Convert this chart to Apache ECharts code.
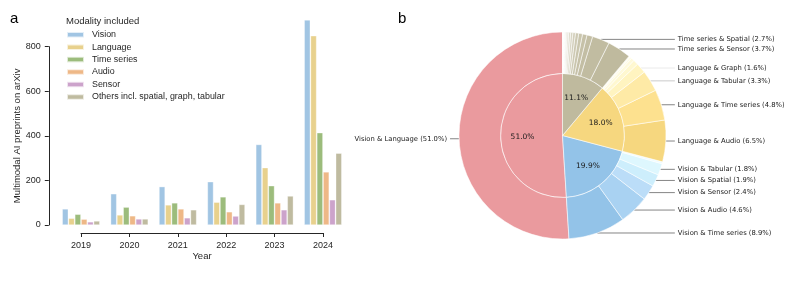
<!DOCTYPE html>
<html><head><meta charset="utf-8">
<script src="https://cdn.jsdelivr.net/npm/echarts@6/dist/echarts.min.js"></script>
<style>html,body{margin:0;padding:0;background:#fff}#c{width:793px;height:282px}</style>
</head><body><div id="c"></div>
<script>
// ---- Panel a data ----
const years = ['2019','2020','2021','2022','2023','2024'];
const yearTicks = [2019, 2024];
const modalities = ['Vision','Language','Time series','Audio','Sensor','Others incl. spatial, graph, tabular'];
const vision     = [72, 140, 172, 194, 361, 920];
const language   = [30, 45, 90, 102, 257, 849];
const timeSeries = [48, 80, 99, 126, 176, 414];
const audio      = [26, 41, 72, 59, 99, 238];
const sensor     = [14, 27, 32, 40, 68, 113];
const others     = [18, 27, 68, 92, 130, 322];
const yTicks = [0, 800, 200];

// ---- Panel b data ----
const innerNames  = ['Vision & Language','Vision','Language','Others'];
const innerValues = [51.0, 19.9, 18.0, 11.1];
const outerNames = ['Vision & Language',
  'Vision & Time series','Vision & Audio','Vision & Sensor','Vision & Spatial','Vision & Tabular','',
  'Language & Audio','Language & Time series','Language & Tabular','Language & Graph','','','','',
  'Time series & Sensor','Time series & Spatial','','','','','','','','','','','','','',''];
const outerValues = [51.0,
  8.9, 4.6, 2.4, 1.9, 1.8, 0.3,
  6.5, 4.8, 3.3, 1.6, 0.8, 0.5, 0.3, 0.2,
  3.7, 2.7, 0.9, 0.7, 0.6, 0.5, 0.4, 0.35, 0.3, 0.25, 0.2, 0.15, 0.12, 0.1, 0.08, 0.05];

// ---- styles ----
const barColors = ['#a1c5e3','#e8d18d','#9cbc7c','#eeb887','#cca3cb','#bfbba0'];
const innerColors = ['#ea9a9e','#93c3e8','#f6d77f','#bfba9e'];
const outerColors = ['#ea9a9e',
  '#93c3e8','#a9d2f2','#bbddf8','#cdeefc','#def7fe','#eefbff',
  '#f6d77f','#fde18f','#feeaa6','#fff4c0','#fff8d0','#fffadc','#fffce6','#fffdf0',
  '#bfba9e','#c1bca1','#c3bea4','#c6c1a8','#c9c5ad','#cdc9b3','#d2ceba','#d7d4c2','#dcd9ca','#e2e0d3','#e8e6dc','#edece4','#f2f1eb','#f6f5f0','#f9f9f5','#fcfcfa'];
const lineColorFor = {'Language & Tabular':'#bdbdbd','Language & Graph':'#e6e6e6'};

const seriesValues = [vision, language, timeSeries, audio, sensor, others];
const txt = '#262626';
const sans = 'Liberation Sans, Arial, sans-serif';
const dv = 'DejaVu Sans, sans-serif';

const chart = echarts.init(document.getElementById('c'), null, {renderer:'canvas'});

const barSeries = modalities.map((m, i) => ({
  name: m, type: 'bar', xAxisIndex: 0, yAxisIndex: 0,
  data: seriesValues[i], barWidth: 6, barGap: '5%', clip: false,
  itemStyle: {color: barColors[i], borderColor: 'rgba(255,255,255,0.7)', borderWidth: 0.5},
  emphasis: {disabled: true}
}));

const center = [562.5, 135.5];

const option = {
  animation: false,
  title: [
    {text: 'a', left: 10, top: 11, padding: 0, textStyle: {fontFamily: sans, fontSize: 15, fontWeight: 'normal', color: '#000'}},
    {text: 'b', left: 398, top: 11, padding: 0, textStyle: {fontFamily: sans, fontSize: 15, fontWeight: 'normal', color: '#000'}},
    {text: 'Modality included', left: 66, top: 16.5, padding: 0, textStyle: {fontFamily: sans, fontSize: 9.5, fontWeight: 'normal', color: txt}}
  ],
  legend: {
    orient: 'vertical', left: 66, top: 28.7, padding: 0, itemGap: 0.45,
    icon: 'rect', itemWidth: 17, itemHeight: 5.5,
    data: modalities,
    textStyle: {fontFamily: sans, fontSize: 8.9, color: txt, lineHeight: 12, padding: [0,0,0,3]},
    selectedMode: false
  },
  grid: [
    {left: 56.8, right: 445.8, top: 46.7, bottom: 57},
    {left: 81, width: 242, top: 232, height: 1}
  ],
  xAxis: [
    {type: 'category', gridIndex: 0, data: years, show: false},
    {type: 'value', gridIndex: 1, min: yearTicks[0], max: yearTicks[1], interval: 1,
     name: 'Year', nameLocation: 'middle', nameGap: 18,
     nameTextStyle: {fontFamily: sans, fontSize: 9.5, color: txt},
     axisLine: {show: true, lineStyle: {color: txt, width: 1}},
     axisTick: {show: true, length: 4, lineStyle: {color: txt}},
     axisLabel: {fontFamily: sans, fontSize: 9, color: txt, margin: 8, formatter: v => String(v)},
     splitLine: {show: false}}
  ],
  yAxis: [
    {type: 'value', gridIndex: 0, min: yTicks[0], max: yTicks[1], interval: yTicks[2], offset: 8,
     name: 'Multimodal AI preprints on arXiv', nameLocation: 'middle', nameGap: 24,
     nameTextStyle: {fontFamily: sans, fontSize: 9.5, color: txt},
     axisLine: {show: true, lineStyle: {color: txt, width: 1}},
     axisTick: {show: true, length: 4, lineStyle: {color: txt}},
     axisLabel: {fontFamily: sans, fontSize: 9, color: txt, margin: 8},
     splitLine: {show: false}},
    {type: 'value', gridIndex: 1, show: false}
  ],
  series: [
    ...barSeries,
    {
      type: 'pie', name: 'inner', center: center, radius: [0, 62],
      clockwise: false, startAngle: 90, silent: true,
      label: {show: false}, labelLine: {show: false},
      itemStyle: {borderColor: 'rgba(255,255,255,0.9)', borderWidth: 0.6},
      data: innerNames.map((n, i) => ({name: n, value: innerValues[i], itemStyle: {color: innerColors[i]}}))
    },
    {
      type: 'pie', name: 'outer', center: center, radius: [62, 103.5],
      clockwise: false, startAngle: 90, silent: true,
      avoidLabelOverlap: true,
      label: {show: true, fontFamily: dv, fontSize: 6.8, color: '#1a1a1a',
              alignTo: 'labelLine', distanceToLabelLine: 3, overflow: 'none', width: 200,
              formatter: p => p.name + ' (' + p.value.toFixed(1) + '%)'},
      labelLine: {show: true, length: 0, length2: 9, lineStyle: {color: '#666', width: 0.8}},
      itemStyle: {borderColor: 'rgba(255,255,255,0.9)', borderWidth: 0.6},
      data: outerNames.map((n, i) => ({
        name: n, value: outerValues[i],
        itemStyle: {color: outerColors[i]},
        label: {show: n !== ''},
        labelLine: {show: n !== '', lineStyle: {color: lineColorFor[n] || '#666'}}
      }))
    },
    {
      type: 'pie', name: 'innerLabels', center: center, radius: [12, 62],
      clockwise: false, startAngle: 90, silent: true, z: 5,
      itemStyle: {color: 'rgba(0,0,0,0)'},
      label: {show: true, position: 'inside', fontFamily: dv, fontSize: 7.5, color: '#1a1a1a',
              formatter: p => p.value.toFixed(1) + '%'},
      labelLine: {show: false},
      data: innerNames.map((n, i) => ({name: n, value: innerValues[i]}))
    }
  ]
};
chart.setOption(option);
</script>
</body></html>
